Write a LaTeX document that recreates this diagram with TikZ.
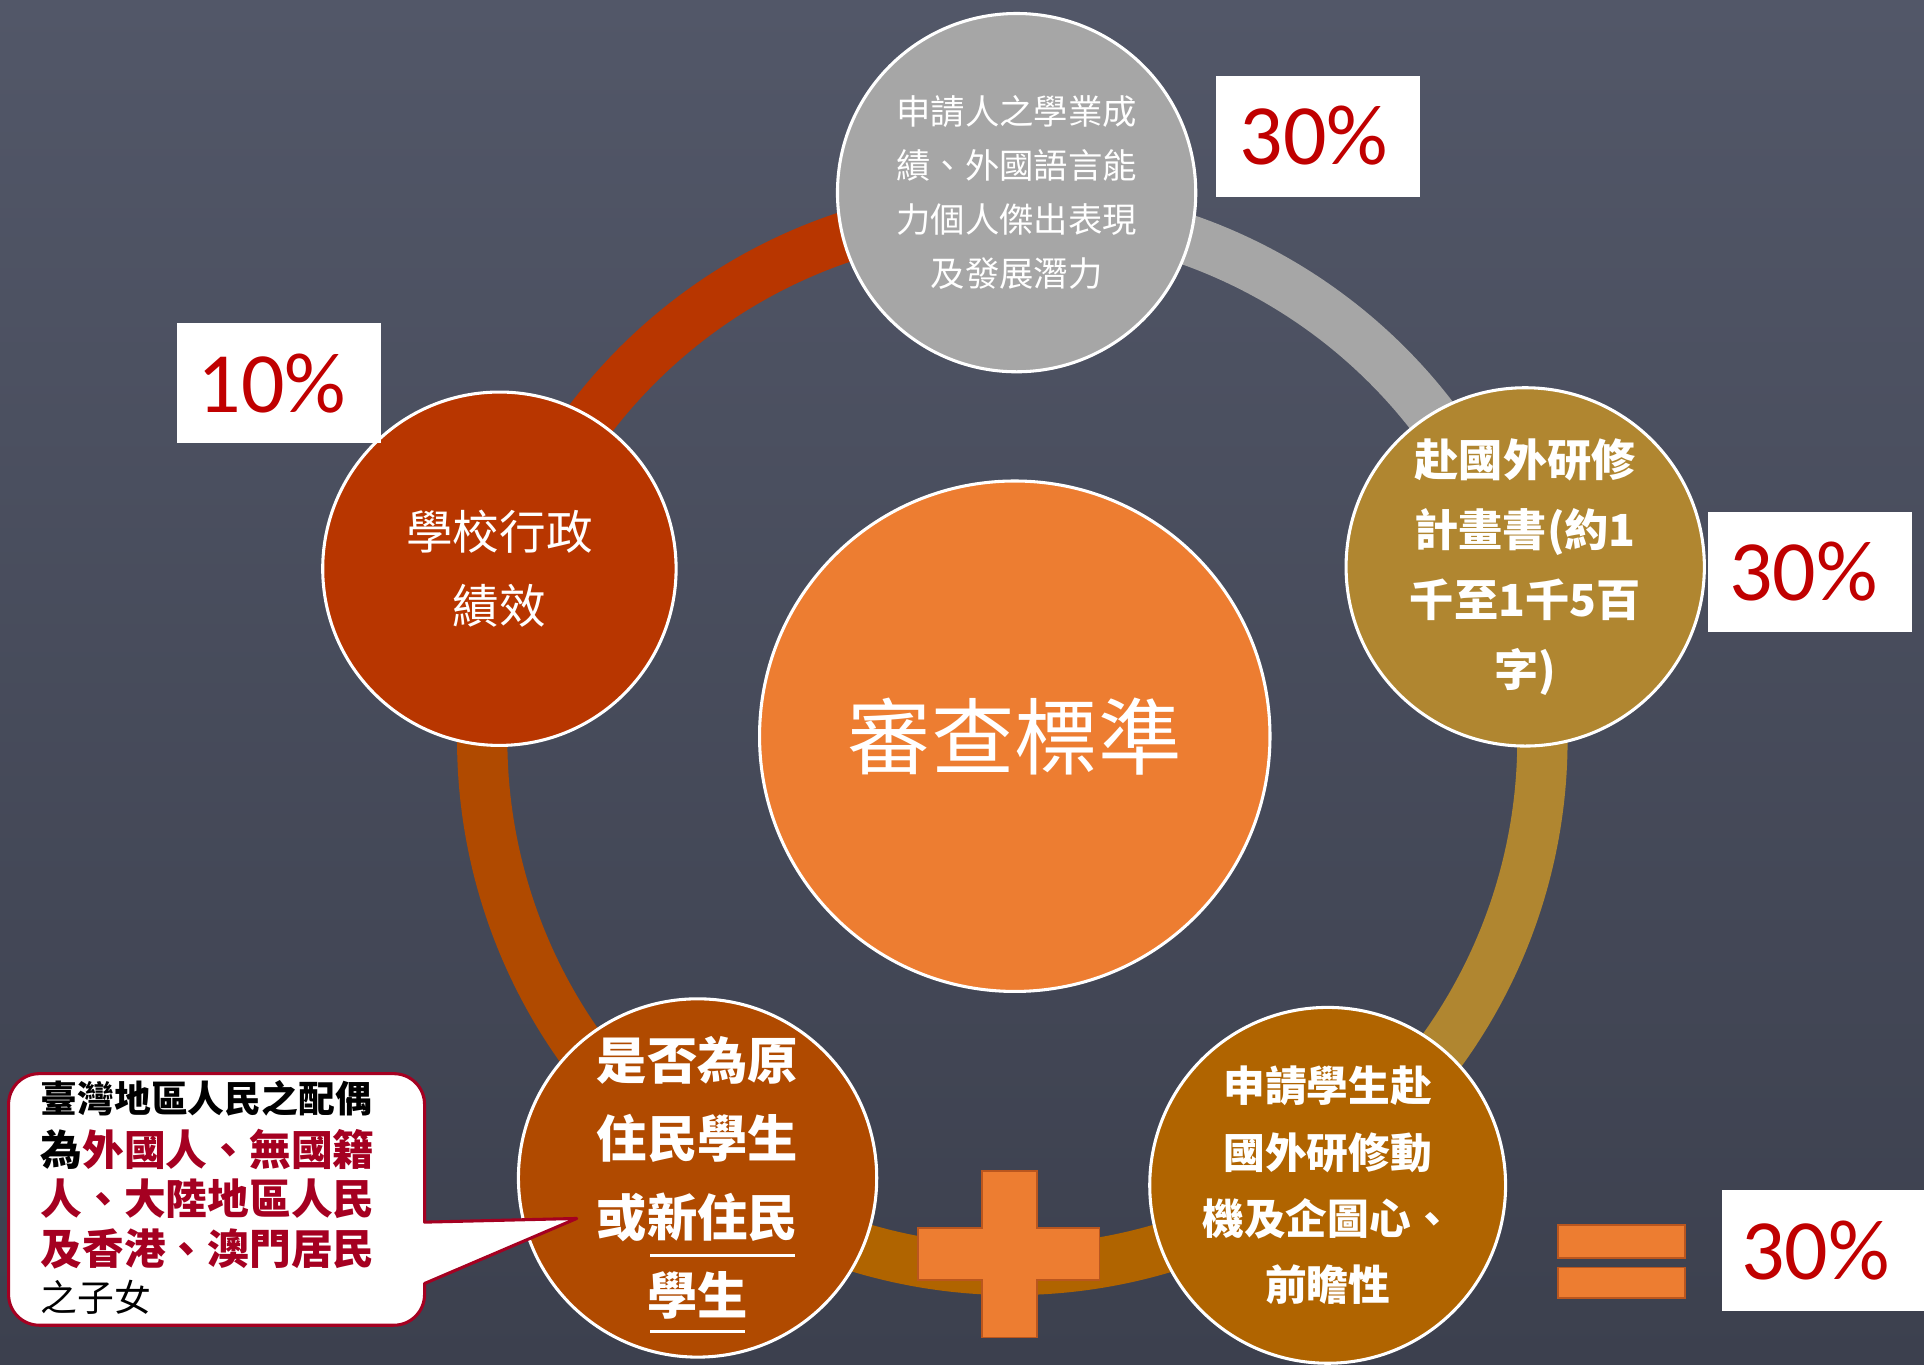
\documentclass[tikz,border=0pt]{standalone}
\usepackage{fontspec}
\setmainfont{Noto Sans CJK TC}
\newfontfamily\pctfont{Carlito}
\definecolor{bgtop}{RGB}{82,87,104}
\definecolor{bgbot}{RGB}{60,64,78}
\definecolor{cgray}{RGB}{166,166,166}
\definecolor{cred}{RGB}{184,54,0}
\definecolor{cgold}{RGB}{176,134,48}
\definecolor{cbr}{RGB}{176,100,0}
\definecolor{cbl}{RGB}{176,74,0}
\definecolor{corange}{RGB}{237,125,49}
\definecolor{cborder}{RGB}{186,86,30}
\definecolor{pctred}{RGB}{192,0,0}
\definecolor{callred}{RGB}{165,0,33}
\begin{document}
\begin{tikzpicture}[x=1pt,y=-1pt,
  bubble/.style={circle, draw=white, line width=2.5pt, text=white, align=center, inner sep=0pt, minimum size=#1},
  ringseg/.style={line width=41pt},
  pctbox/.style={fill=white, draw=none, anchor=north west, minimum width=166pt, minimum height=98pt, inner sep=0pt},
  pcttext/.style={font=\pctfont\fontsize{70}{84}\selectfont, text=pctred, inner sep=0pt, anchor=base west},
  signpart/.style={fill=corange, draw=cborder, line width=1.5pt},
  calltext/.style={anchor=west, inner sep=0pt, align=left}
]
\useasboundingbox (0,0) rectangle (1568,1112.4);
\shade[top color=bgtop, bottom color=bgbot] (0,0) rectangle (1568,1112.4);

% ring
\coordinate (ringc) at (825,603);
\coordinate (rtop) at ([shift={(90:432pt)}]ringc);
\coordinate (rleft) at ([shift={(162:432pt)}]ringc);
\coordinate (rbl) at ([shift={(234:432pt)}]ringc);
\coordinate (rbr) at ([shift={(306:432pt)}]ringc);
\coordinate (rright) at ([shift={(18:432pt)}]ringc);
\draw[ringseg, cred] (rtop) arc[start angle=90, end angle=162, radius=432pt];
\draw[ringseg, cbl] (rleft) arc[start angle=162, end angle=234, radius=432pt];
\draw[ringseg, cbr] (rbl) arc[start angle=234, end angle=306, radius=432pt];
\draw[ringseg, cgold] (rbr) arc[start angle=306, end angle=378, radius=432pt];
\draw[ringseg, cgray] (rright) arc[start angle=18, end angle=90, radius=432pt];

% circles
\node[bubble=292pt, fill=cgray, font=\fontsize{28}{44}\selectfont] (top) at (828.5,157)
  {申請人之學業成\\績、外國語言能\\力個人傑出表現\\及發展潛力};
\node[bubble=288pt, fill=cred, font=\fontsize{38}{60}\selectfont] (left) at (407,463.5)
  {學校行政\\績效};
\node[bubble=292pt, fill=cgold, font=\bfseries\fontsize{36}{57}\selectfont] (right) at (1243,462)
  {赴國外研修\\計畫書(約1\\千至1千5百\\字)};
\node[bubble=290pt, fill=cbr, font=\bfseries\fontsize{34}{54}\selectfont] (br) at (1082,966)
  {申請學生赴\\國外研修動\\機及企圖心、\\前瞻性};
\node[bubble=292pt, fill=cbl, font=\bfseries\fontsize{41}{64}\selectfont] (bl) at (568.5,960)
  {是否為原\\住民學生\\或新住民\\學生};
\draw[white, line width=2pt] (530,1023) -- (648,1023);
\draw[white, line width=2pt] (530,1085) -- (607,1085);
\node[bubble=416pt, fill=corange, font=\fontsize{68}{80}\selectfont] (center) at (827,600) {審查標準};

% percentage boxes
\node[pctbox] (p1) at (991,62) {};
\node[pcttext] (p1t) at (1010,134) {30\%};
\node[pctbox] (p2) at (144,263) {};
\node[pcttext] (p2t) at (161,336) {10\%};
\node[pctbox] (p3) at (1392,417) {};
\node[pcttext] (p3t) at (1409,489) {30\%};
\node[pctbox] (p4) at (1403,970) {};
\node[pcttext] (p4t) at (1419,1043) {30\%};

% plus sign
\draw[signpart] (800,954) -- (845,954) -- (845,1001) -- (896,1001) -- (896,1043) -- (845,1043)
  -- (845,1090) -- (800,1090) -- (800,1043) -- (748,1043) -- (748,1001) -- (800,1001) -- cycle;
% equals sign
\draw[signpart] (1270,998) rectangle (1373,1025);
\draw[signpart] (1270,1033) rectangle (1373,1058);

% callout
\draw[fill=white, draw=callred, line width=2.5pt, line join=round]
  (200,875) [rounded corners=25pt] -- (346,875) -- (346,940) [sharp corners] -- (346,996)
  -- (470,993) -- (346,1046) -- (346,1050) [rounded corners=25pt] -- (346,1080) -- (7,1080) -- (7,875) -- cycle;
\node[calltext, font=\bfseries\fontsize{30}{36}\selectfont] (cl1) at (33,895) {臺灣地區人民之配偶};
\node[calltext, font=\bfseries\fontsize{34}{40}\selectfont] (cl2) at (33,937)
  {為\textcolor{callred}{外國人、無國籍}};
\node[calltext, font=\bfseries\fontsize{34}{40}\selectfont, text=callred] (cl3) at (33,977) {人、大陸地區人民};
\node[calltext, font=\bfseries\fontsize{34}{40}\selectfont, text=callred] (cl4) at (33,1018) {及香港、澳門居民};
\node[calltext, font=\fontsize{30}{36}\selectfont] (cl5) at (33,1057) {之子女};
\end{tikzpicture}
\end{document}
